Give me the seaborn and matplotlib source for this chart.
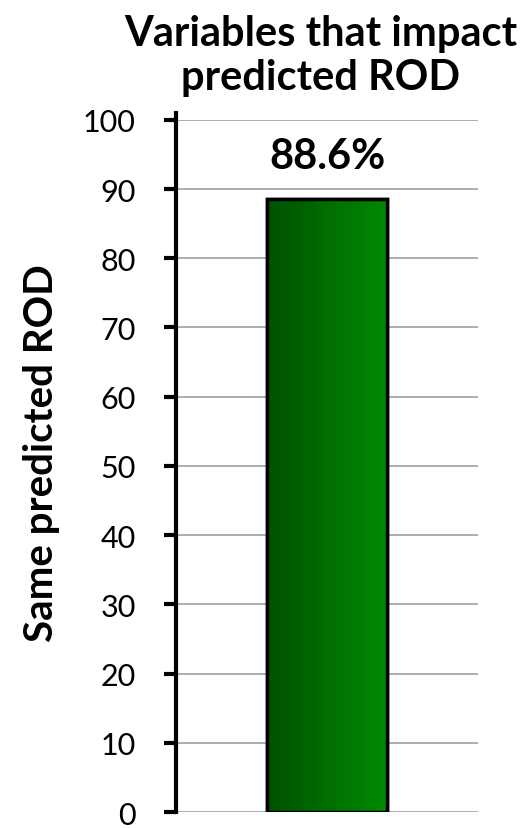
import numpy as np
import pandas as pd
import matplotlib
matplotlib.use("Agg")
import matplotlib.pyplot as plt
import seaborn as sns

categories = ["Same predicted ROD"]
values = [88.6]
bar_labels = ["88.6%"]
yticks = list(range(0, 101, 10))

sns.set_style("white")
plt.rcParams["font.family"] = ["Lato", "DejaVu Sans"]
plt.rcParams["text.color"] = "black"
plt.rcParams["axes.labelcolor"] = "black"
plt.rcParams["ytick.color"] = "black"

df = pd.DataFrame({"cat": categories, "val": values})

fig = plt.figure(figsize=(5.27, 8.29), dpi=100)
ax = fig.add_axes([0.334, 0.0193, 0.573, 0.835])

sns.barplot(data=df, x="cat", y="val", ax=ax, width=0.4, color="#006b00",
            edgecolor="black", linewidth=2.5, zorder=3)

# gradient fill clipped to the bar
grad = np.linspace(0, 1, 256).reshape(1, -1)
cmap = matplotlib.colors.LinearSegmentedColormap.from_list("g", ["#005200", "#008a00"])
for patch, lab in zip(ax.patches, bar_labels):
    x0, y0 = patch.get_x(), patch.get_y()
    w, h = patch.get_width(), patch.get_height()
    im = ax.imshow(grad, extent=[x0, x0 + w, y0, y0 + h], aspect="auto",
                   cmap=cmap, zorder=3.5, origin="lower")
    im.set_clip_path(patch)
    edge = plt.Rectangle((x0, y0), w, h, fill=False, edgecolor="black",
                         linewidth=2.5, zorder=4)
    ax.add_patch(edge)
    ax.text(x0 + w / 2, y0 + h + 4.4, lab, ha="center", va="baseline",
            fontsize=30, fontweight="bold", zorder=5)

ax.set_xlim(-0.5, 0.5)
ax.set_ylim(0, 100)
ax.set_yticks(yticks)
ax.set_xticks([])
ax.set_xlabel("")
ax.set_ylabel("Same predicted ROD", fontsize=29, fontweight="bold")
ax.yaxis.set_label_coords(-0.384, 0.52)
ax.yaxis.grid(True, color="#a0a0a0", linewidth=1.2, zorder=0)
ax.set_axisbelow(True)
ax.tick_params(axis="y", direction="out", length=9, width=3, labelsize=22,
               left=True, pad=20, color="black")
for s in ["top", "right", "bottom"]:
    ax.spines[s].set_visible(False)
ax.spines["left"].set_linewidth(3)
ax.spines["left"].set_color("black")
ax.spines["left"].set_bounds(0, 101)

ax.set_title("Variables that impact\npredicted ROD", fontsize=30,
             fontweight="bold", pad=22, linespacing=1.2, x=0.48)

fig.savefig("out.png", dpi=100)
